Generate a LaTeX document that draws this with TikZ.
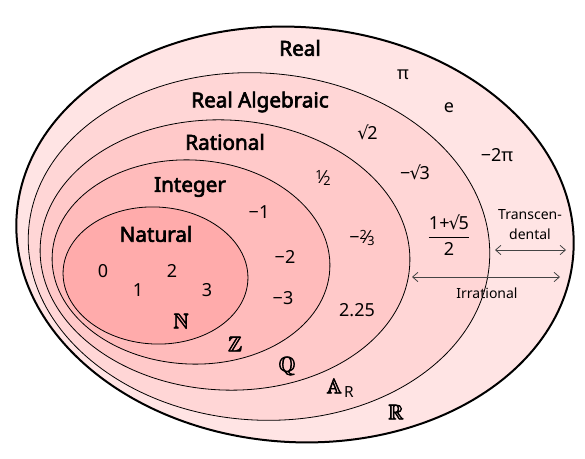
\documentclass[tikz,border=0pt]{standalone}
\usepackage{amsmath}
\usepackage{amssymb}
\usepackage{fontspec}
\setmainfont{Noto Sans}[AutoFakeBold=3]
\newfontfamily\rootfont{DejaVu Sans}
\usetikzlibrary{arrows.meta}

\definecolor{realfill}{HTML}{FFE4E4}
\definecolor{algfill}{HTML}{FFD6D6}
\definecolor{ratfill}{HTML}{FFC9C9}
\definecolor{intfill}{HTML}{FFBBBB}
\definecolor{natfill}{HTML}{FFABAB}
\definecolor{spangray}{HTML}{444444}

% small slanted fraction like 1/2
\newcommand{\vfrac}[2]{\raisebox{0.45ex}{\fontsize{9.5}{10}\selectfont #1}\kern-0.05em⁄\kern-0.05em\raisebox{-0.25ex}{\fontsize{9.5}{10}\selectfont #2}}
% root sign from a font that has it
\newcommand{\rootsign}{{\rootfont\kern-0.05em √\kern-0.08em}}
% heavier blackboard letters
\newcommand{\heavybb}[1]{\special{pdf:code 2 Tr 0.45 w}$\mathbb{#1}$\special{pdf:code 0 Tr}}

\begin{document}
\begin{tikzpicture}[x=0.75pt, y=-0.75pt,
  setline/.style={black, line width=0.6pt},
  setname/.style={font=\fontsize{15.5}{18}\selectfont\bfseries, inner sep=0pt},
  num/.style={font=\fontsize{13.5}{16}\selectfont, inner sep=0pt},
  sym/.style={font=\fontsize{16}{18}\selectfont, inner sep=0pt},
  note/.style={font=\fontsize{10.5}{15}\selectfont, align=center, inner sep=0pt},
  span/.style={{Straight Barb[length=4pt, width=7pt]}-{Straight Barb[length=4pt, width=7pt]}, spangray, line width=0.6pt}]
  \useasboundingbox (0,0) rectangle (585,459);

  % nested sets
  \draw[setline, line width=1.5pt, fill=realfill, rotate around={-4:(295,234.5)}] (295,234.5) ellipse [x radius=279, y radius=207.5];
  \draw[setline, fill=algfill, rotate around={-4:(259,246.5)}] (259,246.5) ellipse [x radius=231, y radius=173.5];
  \draw[setline, fill=ratfill, rotate around={-3:(225,255)}] (225,255) ellipse [x radius=185, y radius=135];
  \draw[setline, fill=intfill, rotate around={-3:(191,262)}] (191,262) ellipse [x radius=139, y radius=102];
  \draw[setline, fill=natfill, rotate around={-3:(155.5,275.5)}] (155.5,275.5) ellipse [x radius=92.5, y radius=68.5];

  % set names
  \node[setname] (real) at (300,48) {Real};
  \node[setname] (alg) at (260,102) {Real Algebraic};
  \node[setname] (rat) at (225,142) {Rational};
  \node[setname] (int) at (190,187) {Integer};
  \node[setname] (nat) at (156,234) {Natural};

  % members
  \node[num] (pi) at (403,75) {π};
  \node[num] (e) at (449,108) {e};
  \node[num] (sqrt2) at (368,132) {\rootsign2};
  \node[num] (m2pi) at (497,155) {−2π};
  \node[num] (msqrt3) at (415,172) {−\rootsign3};
  \node[num] (half) at (323,178) {\vfrac{1}{2}};
  \node[num] (m1) at (259,212) {−1};
  \node[num] (golden) at (449,235) {$\dfrac{\text{1+\rootsign5}}{\text{2}}$};
  \node[num] (mtwothird) at (362,238) {−\vfrac{2}{3}};
  \node[num] (m2) at (285,257) {−2};
  \node[num] (n0) at (103,271) {0};
  \node[num] (n2) at (172,271) {2};
  \node[num] (n1) at (138,290) {1};
  \node[num] (n3) at (207,290) {3};
  \node[num] (m3) at (283,298) {−3};
  \node[num] (dec) at (357,310) {2.25};

  % symbols
  \node[sym] (symN) at (181,321) {\heavybb{N}};
  \node[sym] (symZ) at (235,344) {\heavybb{Z}};
  \node[sym] (symQ) at (287,366) {\heavybb{Q}};
  \node[sym] (symA) at (340,388) {\heavybb{A}\kern0.1em\raisebox{-0.35ex}{\fontsize{11.5}{12}\selectfont R}};
  \node[sym] (symR) at (396,412) {\heavybb{R}};

  % ranges
  \node[note] (trans) at (530,225) {Transcen-\\dental};
  \node[note] (irr) at (487,293) {Irrational};
  \coordinate (trans-l) at (495,250);
  \coordinate (trans-r) at (566,250);
  \coordinate (irr-l) at (412,277);
  \coordinate (irr-r) at (560,277);
  \draw[span] (trans-l) -- (trans-r);
  \draw[span] (irr-l) -- (irr-r);
\end{tikzpicture}
\end{document}
